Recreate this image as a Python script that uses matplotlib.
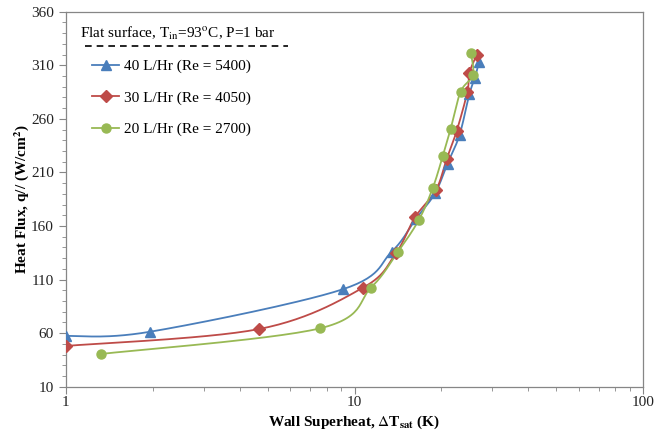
import numpy as np
import matplotlib.pyplot as plt
from matplotlib.lines import Line2D

plt.rcParams['font.family'] = ['Liberation Serif', 'DejaVu Serif']
plt.rcParams['mathtext.fontset'] = 'stix'

# data
dt_40 = [1.0, 1.96, 9.1, 13.45, 16.3, 19.0, 21.0, 23.1, 25.0, 26.1, 27.0]
q_40 = [57.3, 61.3, 100.9, 136.0, 166.5, 190.5, 218.3, 244.9, 283.2, 298.1, 313.3]

dt_30 = [1.0, 4.67, 10.7, 13.9, 16.2, 19.15, 20.85, 22.6, 24.6, 25.0, 26.5]
q_30 = [48.0, 63.8, 102.4, 134.5, 168.1, 193.6, 222.5, 248.9, 285.3, 303.1, 319.6]

dt_20 = [1.32, 7.6, 11.4, 14.1, 16.7, 18.65, 20.2, 21.5, 23.3, 25.7, 25.3]
q_20 = [40.5, 64.5, 102.4, 135.4, 165.6, 195.2, 224.9, 250.2, 285.3, 300.9, 321.2]

labels = ['40 L/Hr (Re = 5400)', '30 L/Hr (Re = 4050)', '20 L/Hr (Re = 2700)']
colors = ['#4A7EBB', '#BE4B48', '#98B954']
markers = ['^', 'D', 'o']
msizes = [6.5, 6, 6.5]

xlim = (1, 100)
ylim = (10, 360)


def smooth(xs, ys, n=30):
    # excel-like bezier smoothing done in (log x, y) screen-ish space
    u = np.log10(xs) / 2.0 * 577.0
    v = (np.array(ys) - ylim[0]) / (ylim[1] - ylim[0]) * 375.0
    p = np.column_stack([u, v])
    pe = np.vstack([p[0], p, p[-1]])
    t = np.linspace(0, 1, n)[:, None]
    out = []
    for i in range(1, len(pe) - 2):
        p0, p1 = pe[i], pe[i + 1]
        c1 = p0 + (pe[i + 1] - pe[i - 1]) / 6.0
        c2 = p1 - (pe[i + 2] - pe[i]) / 6.0
        seg = ((1 - t) ** 3) * p0 + 3 * ((1 - t) ** 2) * t * c1 + 3 * (1 - t) * t ** 2 * c2 + t ** 3 * p1
        out.append(seg)
    out = np.vstack(out)
    sx = 10 ** (out[:, 0] / 577.0 * 2.0)
    sy = out[:, 1] / 375.0 * (ylim[1] - ylim[0]) + ylim[0]
    return sx, sy


fig = plt.figure(figsize=(6.54, 4.34), dpi=100)
ax = fig.add_axes([0.1005, 0.109, 0.8831, 0.864])

handles = []
for xs, ys, c, m, ms, lab in zip([dt_40, dt_30, dt_20], [q_40, q_30, q_20],
                                 colors, markers, msizes, labels):
    sx, sy = smooth(xs, ys)
    ax.plot(sx, sy, color=c, lw=1.3, zorder=2)
    ax.plot(xs, ys, ls='none', marker=m, color=c, ms=ms, zorder=3)
    handles.append(Line2D([], [], color=c, lw=1.3, marker=m, ms=ms, label=lab))

ax.set_xscale('log')
ax.set_xlim(*xlim)
ax.set_ylim(*ylim)
ax.set_yticks(np.arange(10, 361, 50))
ax.set_yticks(np.arange(10, 361, 10), minor=True)
ax.set_xticks([1, 10, 100])
ax.set_xticklabels(['1', '10', '100'])

for s in ax.spines.values():
    s.set_color('#868686')
    s.set_linewidth(0.9)
ax.tick_params(which='both', direction='out', color='#868686', labelsize=11, labelcolor='#222222')
ax.tick_params(which='major', length=5)
ax.tick_params(which='minor', length=3)
ax.tick_params(axis='x', which='both', pad=2)

ax.set_xlabel(r'Wall Superheat, $\Delta$T$_{\mathbf{sat}}$ (K)', fontsize=11, fontweight='bold', labelpad=3)
ax.set_ylabel(r'Heat Flux, q// (W/cm$^{\mathbf{2}}$)', fontsize=11, fontweight='bold', labelpad=0)

ax.text(0.025, 0.943, r'Flat surface, T$_{\mathrm{in}}$=93$^{\mathrm{o}}$C, P=1 bar',
        transform=ax.transAxes, fontsize=11, va='center', ha='left')
ax.plot([0.0334, 0.385], [0.9085, 0.9085], transform=ax.transAxes, ls='--',
        color='black', lw=1.2, dashes=(4, 3))

ax.legend(handles=handles, loc='upper left', bbox_to_anchor=(0.038, 0.885),
          frameon=False, fontsize=11, handlelength=1.75, handletextpad=0.3,
          labelspacing=1.15, borderaxespad=0, borderpad=0.3)

plt.savefig('out.png', dpi=100)
plt.close()
